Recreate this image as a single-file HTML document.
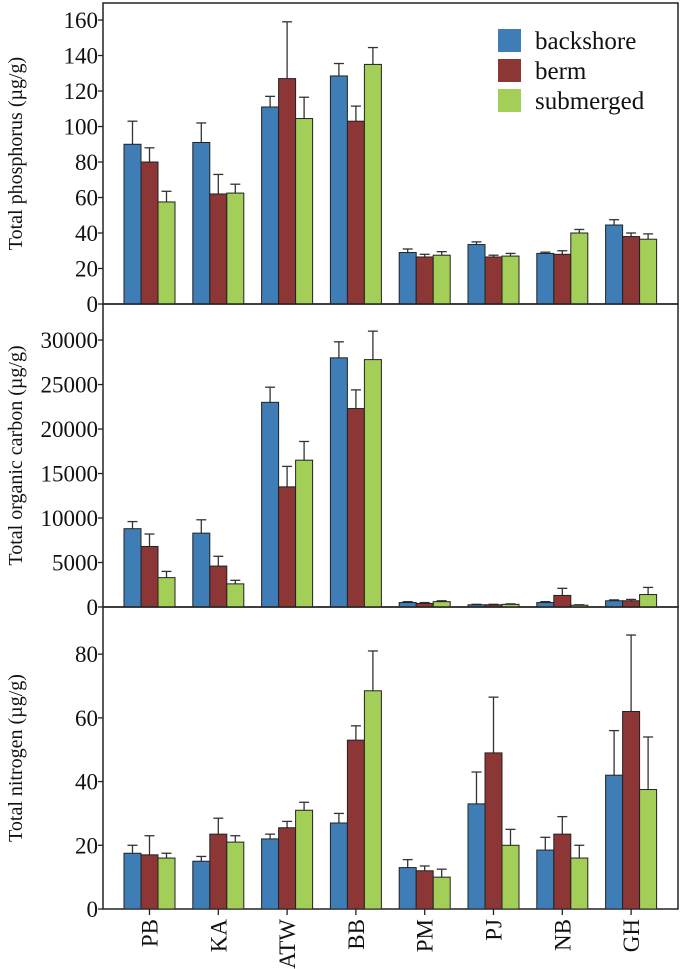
<!DOCTYPE html>
<html><head><meta charset="utf-8"><style>
body{margin:0;background:#fff}
svg{display:block;font-family:"Liberation Serif",serif}
</style></head><body>
<svg id="chart" width="680" height="969" viewBox="0 0 680 969" xmlns="http://www.w3.org/2000/svg"></svg>
<script>
const categories = ["PB","KA","ATW","BB","PM","PJ","NB","GH"];
const seriesNames = ["backshore","berm","submerged"];
const colors = ["#3e7db5","#8c3636","#a3cf58"];
// Total phosphorus
const tpBackshore = [90,91,111,128.5,29,33.5,28.5,44.5];
const tpBackshoreErr = [13,11,6,7,2,1.5,0.7,3];
const tpBerm = [80,62,127,103,26.5,26.5,28,38];
const tpBermErr = [8,11,32,8.5,1.5,1,2,2];
const tpSub = [57.5,62.5,104.5,135,27.5,27,40,36.5];
const tpSubErr = [6,5,12,9.5,2,1.5,2,3];
const tpTicks = [0,20,40,60,80,100,120,140,160];
// Total organic carbon
const tocBackshore = [8800,8300,23000,28000,500,250,500,700];
const tocBackshoreErr = [800,1500,1700,1800,100,50,100,100];
const tocBerm = [6800,4600,13500,22300,400,250,1300,700];
const tocBermErr = [1400,1100,2300,2100,100,50,800,150];
const tocSub = [3300,2600,16500,27800,600,300,200,1400];
const tocSubErr = [700,400,2100,3200,100,50,50,800];
const tocTicks = [0,5000,10000,15000,20000,25000,30000];
// Total nitrogen
const tnBackshore = [17.5,15,22,27,13,33,18.5,42];
const tnBackshoreErr = [2.5,1.5,1.5,3,2.5,10,4,14];
const tnBerm = [17,23.5,25.5,53,12,49,23.5,62];
const tnBermErr = [6,5,2,4.5,1.5,17.5,5.5,24];
const tnSub = [16,21,31,68.5,10,20,16,37.5];
const tnSubErr = [1.5,2,2.5,12.5,2.5,5,4,16.5];
const tnTicks = [0,20,40,60,80];

const svg = document.getElementById('chart');
const NS = "http://www.w3.org/2000/svg";
function mk(tag, attrs){const e=document.createElementNS(NS,tag);for(const k in attrs)e.setAttribute(k,attrs[k]);svg.appendChild(e);return e;}
const X0 = 103, X1 = 678, GROUP0 = 149.5, GSTEP = 68.8, BW = 17;
function xCenter(i){return GROUP0 + i*GSTEP;}

const panels = [
 {name:"phosphorus", top:3, zero:304, max:169.6, ticks:tpTicks, title:"Total phosphorus (\u00b5g/g)", vals:[tpBackshore,tpBerm,tpSub], errs:[tpBackshoreErr,tpBermErr,tpSubErr]},
 {name:"organic-carbon", top:304, zero:607, max:34050, ticks:tocTicks, title:"Total organic carbon (\u00b5g/g)", vals:[tocBackshore,tocBerm,tocSub], errs:[tocBackshoreErr,tocBermErr,tocSubErr]},
 {name:"nitrogen", top:607, zero:909, max:94.8, ticks:tnTicks, title:"Total nitrogen (\u00b5g/g)", vals:[tnBackshore,tnBerm,tnSub], errs:[tnBackshoreErr,tnBermErr,tnSubErr]}
];

panels.forEach(p=>{
  const y = v => p.zero - v/p.max*(p.zero-p.top);
  const fr = mk('rect',{x:X0,y:p.top,width:X1-X0,height:p.zero-p.top,fill:'none',stroke:'#222','stroke-width':1.5});
  
  
  p.ticks.forEach(t=>{
    const ty=y(t);
    const tl=mk('line',{x1:X0-5,x2:X0,y1:ty,y2:ty,stroke:'#222','stroke-width':1.3});
    
    
    const tx=mk('text',{x:X0-5,y:ty+8,'text-anchor':'end','font-size':23,fill:'#111'});
    tx.textContent=t;
    
    
  });
  const cy=(p.top+p.zero)/2;
  const tt=mk('text',{x:0,y:0,transform:`translate(22,${cy}) rotate(-90)`,'text-anchor':'middle','font-size':20,fill:'#111'});
  tt.textContent=p.title;
  
  
  categories.forEach((c,i)=>{
    for(let s=0;s<3;s++){
      const v=p.vals[s][i], e=p.errs[s][i];
      const bx=xCenter(i)-1.5*BW+s*BW;
      const ex=bx+BW/2;
      const el=mk('line',{x1:ex,x2:ex,y1:y(v),y2:y(v+e),stroke:'#333','stroke-width':1.3});
      
      
      const ec=mk('line',{x1:ex-5,x2:ex+5,y1:y(v+e),y2:y(v+e),stroke:'#333','stroke-width':1.3});
      
      
      const r=mk('rect',{x:bx,y:y(v),width:BW,height:p.zero-y(v),fill:colors[s],stroke:'#222','stroke-width':1});
      
      
    }
  });
});

categories.forEach((c,i)=>{
  const cx=xCenter(i);
  const tl=mk('line',{x1:cx,x2:cx,y1:909,y2:915,stroke:'#222','stroke-width':1.3});
  
  
  const t=mk('text',{x:0,y:0,transform:`translate(${cx+8},919) rotate(-90)`,'text-anchor':'end','font-size':23,fill:'#111'});
  t.textContent=c;
  
  
});

seriesNames.forEach((n,s)=>{
  const sw=mk('rect',{x:498,y:29+s*30,width:23,height:23,fill:colors[s]});
  
  
  const t=mk('text',{x:535,y:49+s*30,'font-size':25,fill:'#111'});
  t.textContent=n;
  
  
});
</script>
</body></html>
